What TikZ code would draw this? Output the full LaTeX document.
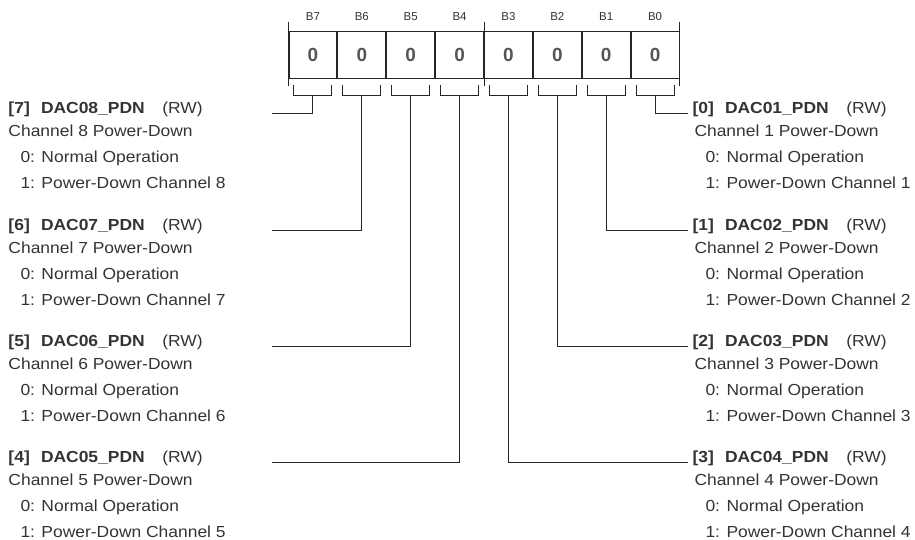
\documentclass[tikz,border=0pt]{standalone}
\usepackage{fontspec}
\setmainfont[FakeStretch=1.09]{Liberation Sans}
\newfontfamily\bitfont{Liberation Sans}
\usetikzlibrary{positioning}
\definecolor{txtgray}{HTML}{333333}
\definecolor{bitgray}{HTML}{555555}

\begin{document}
\begin{tikzpicture}[x=1pt,y=-1pt,line width=1pt,draw=black!85,
  every node/.style={inner sep=0pt,text=txtgray},
  cell/.style={draw,minimum width=47.875pt,minimum height=47.3pt,
    font=\bitfont\fontsize{19}{19}\selectfont\bfseries,text=bitgray},
  head/.style={font=\bitfont\fontsize{11.5}{11.5}\selectfont},
  desc/.style={anchor=base west,font=\fontsize{16}{19}\selectfont}]
  \useasboundingbox (0,0) rectangle (915,540);

  % register
  \node[cell] (b7) at (312.94,55.35) {0};
  \node[cell,right=0pt of b7] (b6) {0};
  \node[cell,right=0pt of b6] (b5) {0};
  \node[cell,right=0pt of b5] (b4) {0};
  \node[cell,right=0pt of b4] (b3) {0};
  \node[cell,right=0pt of b3] (b2) {0};
  \node[cell,right=0pt of b2] (b1) {0};
  \node[cell,right=0pt of b1] (b0) {0};

  \foreach \b in {0,...,7}{
    \node[head,above=10pt of b\b] (h\b) {B\b};
    \draw ([xshift=-19pt,yshift=-6pt]b\b.south) -- ++(0,10) -- ++(38,0) -- ++(0,-10);
  }
  \draw ([yshift=8.7pt]b7.north west) -- ([yshift=-7pt]b7.south west);
  \draw ([yshift=8.7pt]b4.north east) -- ([yshift=-7pt]b4.south east);
  \draw ([yshift=8.7pt]b0.north east) -- ([yshift=-7pt]b0.south east);

  % left fields
  \foreach \b/\r in {7/0,6/1,5/2,4/3}{
    \pgfmathtruncatemacro\ch{\b+1}
    \pgfmathsetmacro\yy{114+116*\r}
    \node[desc] (t\b) at (8,\yy) {\textbf{[\b]\hspace{0.7em}DAC0\ch\_PDN}\hspace{1.1em}(RW)};
    \node[desc] (c\b) at (8,\yy+23) {Channel \ch{} Power-Down};
    \node[desc] (z\b) at (20,\yy+49) {0: Normal Operation};
    \node[desc] (o\b) at (20,\yy+75) {1: Power-Down Channel \ch};
    \coordinate (e\b) at (272,\yy);
    \draw ([yshift=-16pt]b\b.south) |- (e\b);
  }

  % right fields
  \foreach \b/\r in {0/0,1/1,2/2,3/3}{
    \pgfmathtruncatemacro\ch{\b+1}
    \pgfmathsetmacro\yy{114+116*\r}
    \node[desc] (t\b) at (692,\yy) {\textbf{[\b]\hspace{0.7em}DAC0\ch\_PDN}\hspace{1.1em}(RW)};
    \node[desc] (c\b) at (694,\yy+23) {Channel \ch{} Power-Down};
    \node[desc] (z\b) at (705,\yy+49) {0: Normal Operation};
    \node[desc] (o\b) at (705,\yy+75) {1: Power-Down Channel \ch};
    \coordinate (e\b) at (688,\yy);
    \draw ([yshift=-16pt]b\b.south) |- (e\b);
  }
\end{tikzpicture}
\end{document}
